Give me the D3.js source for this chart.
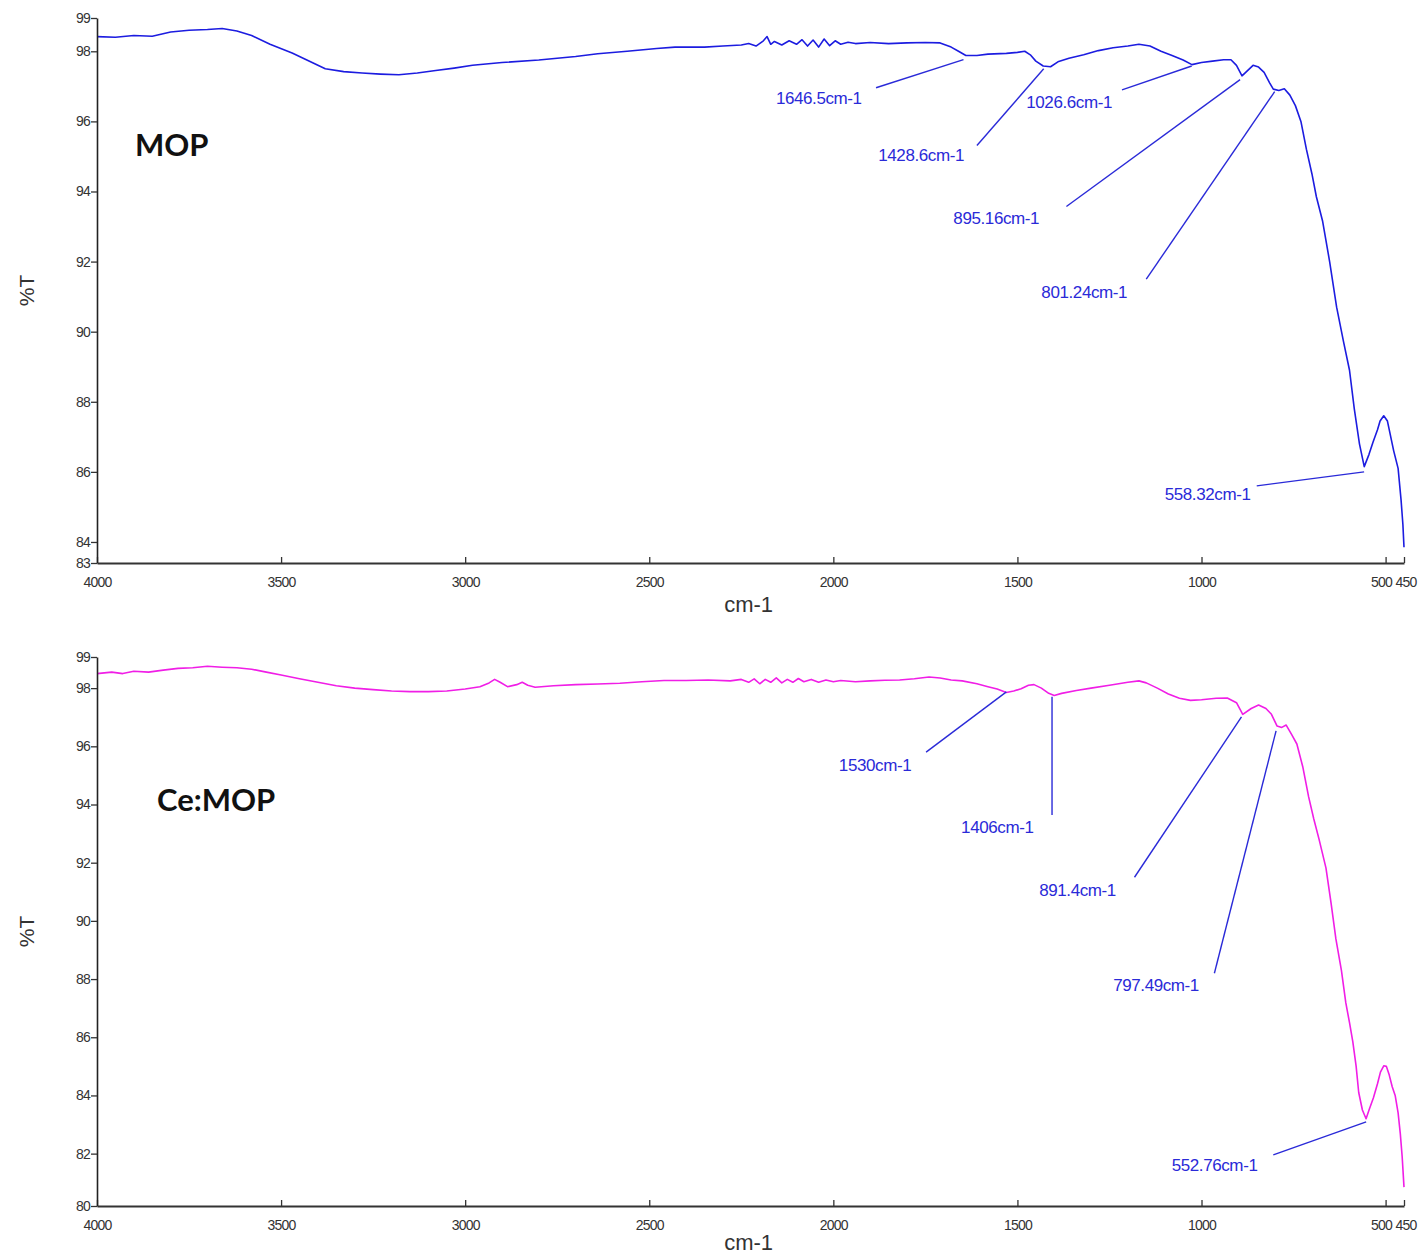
<!DOCTYPE html>
<html>
<head>
<meta charset="utf-8">
<script src="https://cdn.jsdelivr.net/npm/d3@7/dist/d3.min.js"></script>
<style>
  html, body { margin: 0; padding: 0; background: #fff; }
  svg { display: block; }
  .tick-label { font-family: "Liberation Sans", Arial, sans-serif; font-size: 14px; fill: #333; letter-spacing: -0.8px; }
  .axis-title { font-family: "Liberation Sans", Arial, sans-serif; fill: #333; }
  .peak-label { font-family: "Liberation Sans", Arial, sans-serif; font-size: 17px; fill: #2a2ad8; letter-spacing: -0.4px; }
  .panel-title { font-family: Lato, "Open Sans", sans-serif; font-weight: 700; font-size: 31px; fill: #111; }
</style>
</head>
<body>
<svg id="chart" width="1424" height="1256"></svg>
<script>
// ---------- FTIR spectra: MOP and Ce:MOP ----------

// x-axis (wavenumber, cm-1)
const wnTicks = [4000, 3500, 3000, 2500, 2000, 1500, 1000, 500, 450];
const wnTickLabels = ["4000", "3500", "3000", "2500", "2000", "1500", "1000", "500", "450"];

// y-axis ticks (%T), end labels sit on the axis limits
const mopTicks = [83.4, 84, 86, 88, 90, 92, 94, 96, 98, 98.95];
const mopTickLabels = ["83", "84", "86", "88", "90", "92", "94", "96", "98", "99"];
const ceTicks = [80.2, 82, 84, 86, 88, 90, 92, 94, 96, 98, 99.07];
const ceTickLabels = ["80", "82", "84", "86", "88", "90", "92", "94", "96", "98", "99"];

// MOP spectrum: wavenumber / transmittance
const mopWn = [4000, 3950, 3900, 3850, 3800, 3750, 3700, 3660, 3620, 3580, 3530, 3470, 3420, 3380, 3330, 3280, 3230, 3180, 3130, 3080, 3030, 2980, 2900, 2800, 2700, 2640, 2560, 2480, 2430, 2350, 2300, 2250,
  2230, 2210, 2190, 2180, 2170, 2160, 2140, 2120, 2100, 2085, 2070, 2055, 2040, 2025, 2010, 1995, 1980, 1960, 1940,
  1900, 1850, 1800, 1750, 1710, 1680, 1660, 1640, 1610, 1580, 1530, 1500, 1480, 1465, 1450, 1430, 1410, 1390, 1360, 1320, 1280, 1240, 1200, 1170, 1140, 1110, 1080, 1050, 1026, 1000, 970, 940, 920, 905, 890, 875, 860, 845, 830, 815, 805, 790, 775, 760, 745, 730, 715, 700, 688, 671, 652, 633, 614, 598, 585, 571, 558, 545, 534, 522, 515, 505, 495, 486, 478, 466, 458, 453, 450];
const mopT = [98.42, 98.4, 98.45, 98.43, 98.55, 98.6, 98.62, 98.65, 98.58, 98.45, 98.2, 97.95, 97.7, 97.5, 97.42, 97.38, 97.35, 97.33, 97.38, 97.45, 97.52, 97.6, 97.68, 97.75, 97.85, 97.93, 98.0, 98.08, 98.12, 98.12, 98.15, 98.18,
  98.22, 98.15, 98.3, 98.42, 98.2, 98.28, 98.18, 98.3, 98.2, 98.33, 98.15, 98.32, 98.12, 98.35, 98.16, 98.3, 98.2, 98.26, 98.22,
  98.25, 98.22, 98.24, 98.25, 98.24, 98.12, 98.0, 97.88, 97.88, 97.92, 97.94, 97.97, 98.0, 97.9, 97.72, 97.58, 97.56, 97.7, 97.8, 97.9, 98.02, 98.1, 98.15, 98.2, 98.15, 98.0, 97.88, 97.75, 97.62, 97.68, 97.72, 97.76, 97.76, 97.6, 97.3, 97.45, 97.6, 97.55, 97.4, 97.1, 96.92, 96.88, 96.93, 96.75, 96.45, 96.0, 95.2, 94.5, 93.85, 93.15, 92.0, 90.7, 89.7, 88.9, 87.8, 86.8, 86.15, 86.5, 86.85, 87.2, 87.45, 87.6, 87.45, 87.0, 86.6, 86.1, 85.2, 84.5, 83.85];

// Ce:MOP spectrum: wavenumber / transmittance
const ceWn = [4000, 3960, 3930, 3900, 3860, 3820, 3780, 3740, 3700, 3660, 3620, 3580, 3540, 3500, 3450, 3400, 3350, 3300, 3250, 3200, 3150, 3100, 3050, 3000, 2960, 2935, 2920, 2905, 2885, 2860, 2845, 2830, 2810, 2760, 2700, 2640, 2580, 2520, 2460, 2400, 2340, 2280, 2250,
  2230, 2215, 2200, 2185, 2170, 2155, 2140, 2125, 2110, 2095, 2080, 2060, 2040, 2020, 2000, 1980,
  1940, 1900, 1860, 1820, 1780, 1740, 1710, 1680, 1650, 1610, 1580, 1555, 1530, 1510, 1490, 1470, 1455, 1435, 1415, 1400, 1380, 1340, 1300, 1250, 1200, 1170, 1150, 1120, 1090, 1060, 1030, 1000, 960, 930, 905, 888, 865, 845, 825, 810, 795, 782, 770, 755, 741, 725, 709, 695, 681, 662, 648, 635, 620, 608, 598, 589, 580, 573, 563, 553, 545, 533, 522, 514, 505, 498, 490, 482, 474, 466, 460, 455, 450];
const ceT = [98.5, 98.55, 98.5, 98.58, 98.55, 98.62, 98.68, 98.7, 98.75, 98.72, 98.7, 98.65, 98.55, 98.45, 98.32, 98.2, 98.08, 98.0, 97.95, 97.9, 97.88, 97.88, 97.9, 97.97, 98.05, 98.18, 98.3, 98.2, 98.05, 98.12, 98.2, 98.1, 98.03, 98.08, 98.12, 98.14, 98.17, 98.22, 98.26, 98.26, 98.28, 98.25, 98.3,
  98.2, 98.32, 98.15, 98.3, 98.2, 98.35, 98.18, 98.3, 98.2, 98.33, 98.22, 98.3, 98.2, 98.28, 98.22, 98.26,
  98.22, 98.25, 98.27, 98.28, 98.32, 98.38, 98.35, 98.28, 98.25, 98.15, 98.05, 97.97, 97.85, 97.9, 97.98, 98.1, 98.12, 98.0, 97.82, 97.75, 97.82, 97.92, 98.0, 98.1, 98.2, 98.25, 98.18, 98.0, 97.8, 97.65, 97.58, 97.6, 97.65, 97.66, 97.5, 97.1, 97.3, 97.42, 97.3, 97.1, 96.7, 96.65, 96.73, 96.4, 96.08, 95.3, 94.26, 93.5, 92.82, 91.82, 90.6, 89.38, 88.3, 87.18, 86.5, 85.84, 85.0, 84.1, 83.5, 83.2, 83.5, 83.92, 84.4, 84.8, 85.02, 85.0, 84.7, 84.3, 84.0, 83.4, 82.68, 81.9, 80.85];

// Peak annotations for MOP: label text, labelled peak, tip %T, label anchor (wn, %T), leader start (wn, %T)
const mopPeakText = ["1646.5cm-1", "1428.6cm-1", "1026.6cm-1", "895.16cm-1", "801.24cm-1", "558.32cm-1"];
const mopPeakWn = [1646.5, 1428.6, 1026.6, 895.16, 801.24, 558.32];
const mopPeakTipT = [97.76, 97.5, 97.58, 97.19, 96.85, 86.0];
const mopLabelWn = [2156, 1878, 1476, 1674, 1435, 1100];
const mopLabelT = [96.67, 95.03, 96.56, 93.23, 91.13, 85.38];
const mopLeaderWn = [1884, 1610, 1216, 1367, 1150, 850];
const mopLeaderT = [96.96, 95.31, 96.9, 93.57, 91.5, 85.6];

// Peak annotations for Ce:MOP
const cePeakText = ["1530cm-1", "1406cm-1", "891.4cm-1", "797.49cm-1", "552.76cm-1"];
const cePeakWn = [1530, 1406, 891.4, 797.49, 552.76];
const cePeakTipT = [97.87, 97.7, 97.01, 96.53, 83.09];
const ceLabelWn = [1985, 1653, 1441, 1240, 1081];
const ceLabelT = [95.36, 93.23, 91.06, 87.8, 81.61];
const ceLeaderWn = [1748, 1406, 1182, 965, 805];
const ceLeaderT = [95.8, 93.64, 91.5, 88.2, 81.96];

const svg = d3.select("#chart");
svg.append("rect").attr("width", 1424).attr("height", 1256).attr("fill", "#fff");

function drawPanel(cfg) {
  const x = d3.scaleLinear().domain([4000, 450]).range([97, 1404]);
  const y = d3.scaleLinear().domain(cfg.yDomain).range([cfg.bottom, cfg.top]);
  const g = svg.append("g");

  // spectrum trace
  const pts = cfg.wn.map((w, i) => [w, cfg.t[i]]);
  g.append("path")
    .datum(pts)
    .attr("fill", "none")
    .attr("stroke", cfg.color)
    .attr("stroke-width", 1.6)
    .attr("stroke-linejoin", "round")
    .attr("d", d3.line().x(d => x(d[0])).y(d => y(d[1])));

  // x axis (ticks pointing into the plot)
  const xAxis = d3.axisBottom(x)
    .tickValues(wnTicks)
    .tickFormat((d, i) => wnTickLabels[i])
    .tickSizeInner(-6).tickSizeOuter(0).tickPadding(14);
  const gx = g.append("g").attr("transform", `translate(0,${cfg.bottom})`).call(xAxis);
  gx.select(".domain").attr("stroke", "#333").attr("stroke-width", 2);
  gx.selectAll(".tick line").attr("stroke", "#333").attr("stroke-width", 1.3);
  gx.selectAll(".tick text").attr("class", "tick-label").attr("fill", null);
  // the two closely spaced end labels are pushed apart
  gx.selectAll(".tick text")
    .filter(d => d === 500).attr("text-anchor", "end").attr("x", 6);
  gx.selectAll(".tick text")
    .filter(d => d === 450).attr("text-anchor", "start").attr("x", -9);

  // y axis
  const yAxis = d3.axisLeft(y)
    .tickValues(cfg.yTicks)
    .tickFormat((d, i) => cfg.yLabels[i])
    .tickSizeInner(6).tickSizeOuter(0).tickPadding(1);
  const gy = g.append("g").attr("transform", "translate(97,0)").call(yAxis);
  gy.select(".domain").attr("stroke", "#222").attr("stroke-width", 1.6);
  gy.selectAll(".tick line").attr("stroke", "#333").attr("stroke-width", 1.3);
  gy.selectAll(".tick text").attr("class", "tick-label").attr("fill", null);

  // axis titles
  g.append("text").attr("class", "axis-title")
    .attr("font-size", 21)
    .attr("text-anchor", "middle")
    .attr("transform", `translate(34,${(cfg.top + cfg.bottom) / 2}) rotate(-90)`)
    .text("%T");
  g.append("text").attr("class", "axis-title")
    .attr("font-size", 22)
    .attr("text-anchor", "middle")
    .attr("x", x(2230)).attr("y", cfg.bottom + cfg.unitDy)
    .text("cm-1");

  // panel title
  g.append("text").attr("class", "panel-title")
    .attr("x", cfg.titleX).attr("y", cfg.titleY)
    .text(cfg.title);

  // peak annotations
  cfg.peakText.forEach((txt, i) => {
    g.append("line")
      .attr("x1", x(cfg.leaderWn[i])).attr("y1", y(cfg.leaderT[i]))
      .attr("x2", x(cfg.peakWn[i])).attr("y2", y(cfg.tipT[i]))
      .attr("stroke", "#2a2ad8").attr("stroke-width", 1.4);
    g.append("text").attr("class", "peak-label")
      .attr("x", x(cfg.labelWn[i])).attr("y", y(cfg.labelT[i]))
      .attr("dy", "0.35em")
      .text(txt);
  });
}

drawPanel({
  top: 18, bottom: 563, yDomain: [83.4, 98.95],
  yTicks: mopTicks, yLabels: mopTickLabels,
  wn: mopWn, t: mopT, color: "#1c1ce0",
  title: "MOP", titleX: 135, titleY: 156, unitDy: 49,
  peakText: mopPeakText, peakWn: mopPeakWn, tipT: mopPeakTipT,
  labelWn: mopLabelWn, labelT: mopLabelT, leaderWn: mopLeaderWn, leaderT: mopLeaderT
});

drawPanel({
  top: 657, bottom: 1206, yDomain: [80.2, 99.07],
  yTicks: ceTicks, yLabels: ceTickLabels,
  wn: ceWn, t: ceT, color: "#f01ee6",
  title: "Ce:MOP", titleX: 157, titleY: 811, unitDy: 44,
  peakText: cePeakText, peakWn: cePeakWn, tipT: cePeakTipT,
  labelWn: ceLabelWn, labelT: ceLabelT, leaderWn: ceLeaderWn, leaderT: ceLeaderT
});
</script>
</body>
</html>
